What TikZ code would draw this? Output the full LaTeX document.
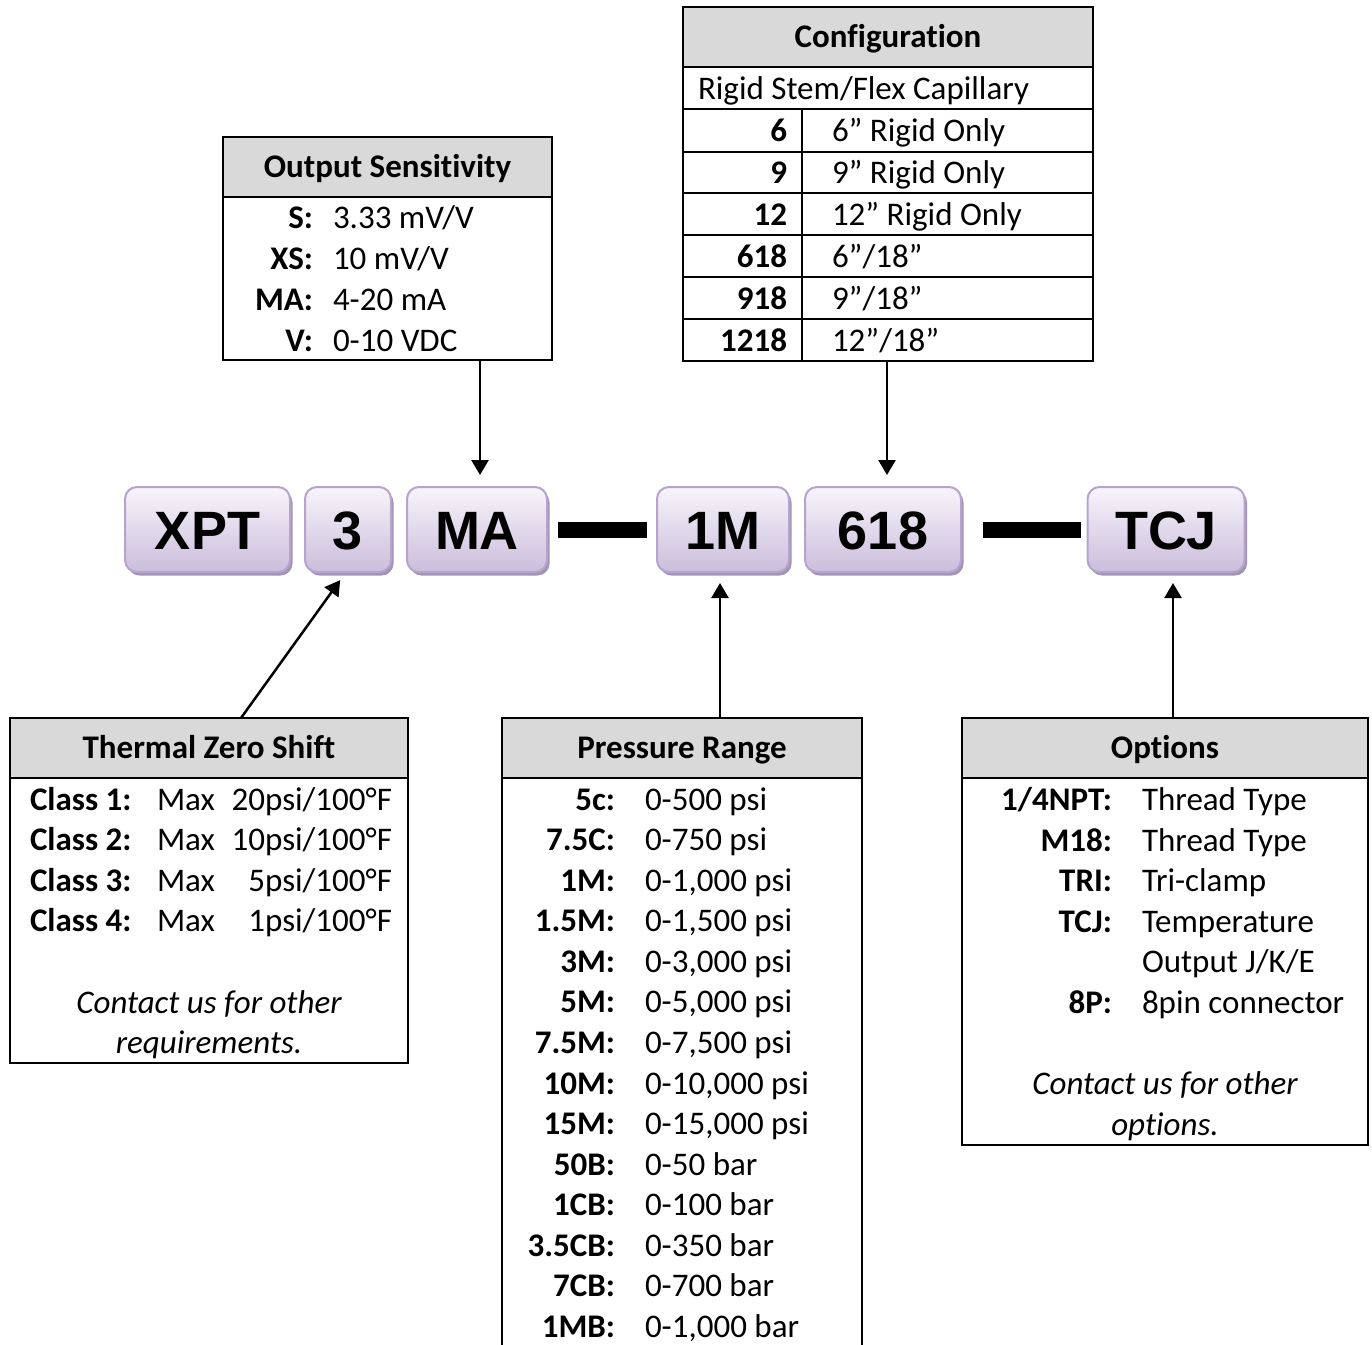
\documentclass[tikz,border=0pt]{standalone}
\usepackage{fontspec}
\setmainfont{Carlito}[RawFeature={-liga}]
\newfontfamily\codefont{Liberation Sans}
\usetikzlibrary{arrows.meta,shadows,calc}
\definecolor{hdrgray}{HTML}{D9D9D9}
\definecolor{boxtop}{HTML}{F8F5FB}
\definecolor{boxbot}{HTML}{CBBDDC}
\definecolor{boxline}{HTML}{B6A4CE}
\definecolor{boxshadow}{HTML}{A294B4}
\newcommand\mytabfont{\fontsize{33}{40}\selectfont}
\begin{document}
\begin{tikzpicture}[x=1pt,y=-1pt,
  every node/.style={inner sep=0pt, outer sep=0pt},
  codebox/.style={draw=boxline, line width=2pt, rounded corners=12pt,
    top color=boxtop, bottom color=boxbot, minimum height=85pt,
    text height=39pt, text depth=0pt,
    font=\codefont\bfseries\fontsize{54}{60}\selectfont,
    drop shadow={shadow xshift=2.5pt, shadow yshift=-3.5pt, fill=boxshadow, opacity=1}},
  tbl/.style={draw=black, line width=2pt, anchor=north west},
  hdr/.style={draw=black, fill=hdrgray, line width=2pt, anchor=north west,
    minimum height=60pt, font=\mytabfont\bfseries, text height=21pt, text depth=0pt},
  lab/.style={anchor=base east, font=\mytabfont\bfseries},
  labw/.style={anchor=base west, font=\mytabfont\bfseries},
  val/.style={anchor=base west, font=\mytabfont},
  vale/.style={anchor=base east, font=\mytabfont},
  note/.style={anchor=base, font=\mytabfont\itshape},
  arr/.style={-{Triangle[width=17pt,length=15pt]}, line width=2.5pt},
  bar/.style={line width=16pt},
  grid/.style={line width=2pt}
]
\path[use as bounding box, fill=white] (0,0) rectangle (1372,1344);

% ---------------- code boxes ----------------
\node[codebox, minimum width=165pt] (xpt)   at (207.5,529.5) {XPT};
\node[codebox, minimum width=86pt]  (three) at (348,529.5)   {3};
\node[codebox, minimum width=140pt] (ma)    at (477,529.5)   {MA};
\node[codebox, minimum width=132pt] (m1)    at (723,529.5)   {1M};
\node[codebox, minimum width=156pt] (c618)  at (883,529.5)   {618};
\node[codebox, minimum width=157pt] (tcj)   at (1166,529.5)  {TCJ};
\draw[bar] ([xshift=11pt]ma.east) -- ([xshift=-10pt]m1.west);
\draw[bar] ([xshift=22pt]c618.east) -- ([xshift=-7pt]tcj.west);

% ---------------- Output Sensitivity ----------------
\node[tbl, minimum width=329pt, minimum height=223pt] (os) at (223,137) {};
\node[hdr, minimum width=329pt] (osh) at (223,137) {Output Sensitivity};
\foreach \l/\v [count=\i] in {{S:}/{3.33 mV/V},{XS:}/{10 mV/V},{MA:}/{4-20 mA},{V:}/{0-10 VDC}} {
  \node[lab] (osl\i) at (313,{177+41*\i+10.6}) {\l};
  \node[val] (osv\i) at (333,{177+41*\i+10.6}) {\v};
}

% ---------------- Configuration ----------------
\node[tbl, minimum width=410pt, minimum height=354pt] (cf) at (683,7) {};
\node[hdr, minimum width=410pt] (cfh) at (683,7) {Configuration};
\draw[grid] (cf.west |- 0,109) -- (cf.east |- 0,109);
\foreach \yy in {152,193,235,277,319} {\draw[grid] (cf.west |- 0,\yy) -- (cf.east |- 0,\yy);}
\draw[grid] (802,109) -- (cf.south -| 802,0);
\node[val] (cfsub) at (698,{89+10.6}) {Rigid Stem/Flex Capillary};
\foreach \l/\v [count=\i] in {6/{6” Rigid Only},9/{9” Rigid Only},12/{12” Rigid Only},618/{6”/18”},918/{9”/18”},1218/{12”/18”}} {
  \node[lab] (cfl\i) at (787,{89+42*\i+10.6}) {\l};
  \node[val] (cfv\i) at (832,{89+42*\i+10.6}) {\v};
}

% ---------------- Thermal Zero Shift ----------------
\node[tbl, minimum width=398pt, minimum height=345pt] (tz) at (10,718) {};
\node[hdr, minimum width=398pt] (tzh) at (10,718) {Thermal Zero Shift};
\foreach \l/\v [count=\i] in {1/20,2/10,3/5,4/1} {
  \node[labw] (tzl\i) at (30,{759.5+40.3*\i+10.6}) {Class \l:};
  \node[val]  (tzm\i) at (157,{759.5+40.3*\i+10.6}) {Max};
  \node[vale] (tzv\i) at (392,{759.5+40.3*\i+10.6}) {\v psi/100°F};
}
\node[note] (tzn1) at (209,{1003+10.6}) {Contact us for other};
\node[note] (tzn2) at (209,{1043+10.6}) {requirements.};

% ---------------- Pressure Range ----------------
\node[tbl, minimum width=360pt, minimum height=628pt] (pr) at (502,718) {};
\node[hdr, minimum width=360pt] (prh) at (502,718) {Pressure Range};
\foreach \l/\v [count=\i] in {{5c:}/{0-500 psi},{7.5C:}/{0-750 psi},{1M:}/{0-1,000 psi},{1.5M:}/{0-1,500 psi},{3M:}/{0-3,000 psi},{5M:}/{0-5,000 psi},{7.5M:}/{0-7,500 psi},{10M:}/{0-10,000 psi},{15M:}/{0-15,000 psi},{50B:}/{0-50 bar},{1CB:}/{0-100 bar},{3.5CB:}/{0-350 bar},{7CB:}/{0-700 bar},{1MB:}/{0-1,000 bar}} {
  \node[lab] (prl\i) at (615,{759.4+40.55*\i+10.2}) {\l};
  \node[val] (prv\i) at (645,{759.4+40.55*\i+10.2}) {\v};
}

% ---------------- Options ----------------
\node[tbl, minimum width=406pt, minimum height=427pt] (op) at (962,718) {};
\node[hdr, minimum width=406pt] (oph) at (962,718) {Options};
\node[lab] (opl1) at (1112,{800+10.6}) {1/4NPT:};
\node[val] (opv1) at (1142,{800+10.6}) {Thread Type};
\node[lab] (opl2) at (1112,{840.5+10.6}) {M18:};
\node[val] (opv2) at (1142,{840.5+10.6}) {Thread Type};
\node[lab] (opl3) at (1112,{881+10.6}) {TRI:};
\node[val] (opv3) at (1142,{881+10.6}) {Tri-clamp};
\node[lab] (opl4) at (1112,{921.5+10.6}) {TCJ:};
\node[val] (opv4) at (1142,{921.5+10.6}) {Temperature};
\node[val] (opv5) at (1142,{962+10.6}) {Output J/K/E};
\node[lab] (opl6) at (1112,{1002.5+10.6}) {8P:};
\node[val] (opv6) at (1142,{1002.5+10.6}) {8pin connector};
\node[note] (opn1) at (1165,{1084+10.6}) {Contact us for other};
\node[note] (opn2) at (1165,{1125+10.6}) {options.};

% ---------------- connectors ----------------
\draw[arr, shorten >=12pt] ([xshift=3pt]ma.north |- os.south) -- ([xshift=3pt]ma.north);
\draw[arr, shorten >=12pt] ([xshift=4pt]c618.north |- cf.south) -- ([xshift=4pt]c618.north);
\draw[arr, shorten >=11pt] ([xshift=-3pt]m1.south |- pr.north) -- ([xshift=-3pt]m1.south);
\draw[arr, shorten >=11pt] ([xshift=7pt]tcj.south |- op.north) -- ([xshift=7pt]tcj.south);
\draw[arr, shorten >=10pt] ([xshift=32pt]tz.north) -- ([xshift=-2pt]three.south);
\end{tikzpicture}
\end{document}
